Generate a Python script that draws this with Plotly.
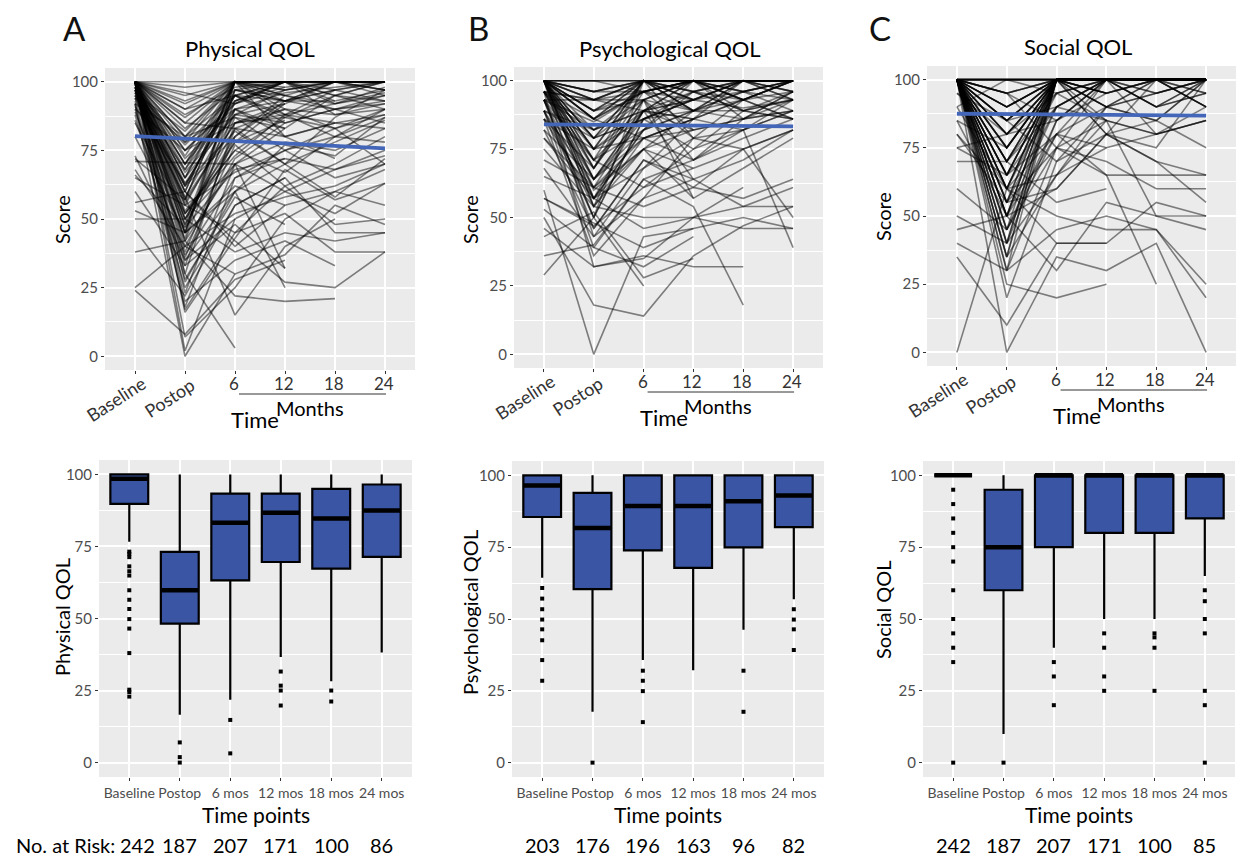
import plotly.graph_objects as go

N = None
W, H = 1244, 859
FONT = "Lato"

top_labels = ["Baseline", "Postop", "6", "12", "18", "24"]
box_labels = ["Baseline", "Postop", "6 mos", "12 mos", "18 mos", "24 mos"]
panel_titles = ["Physical QOL", "Psychological QOL", "Social QOL"]
box_ytitles = ["Physical QOL", "Psychological QOL", "Social QOL"]
panel_letters = ["A", "B", "C"]

# ---------------- individual trajectories (read/estimated from picture) ----------------
phys_base = [100,100,100,98,100,97,100,95,100,92, 100,99,100,90,100,96,100,88,100,94,
             100,100,85,100,97,100,91,100,98,100, 80,100,73,100,93,100,72,100,96,68,
             100,66,100,60,100,56,53,100,50,46, 38,24,25,100,92,100,100,97,100,89,
             100,94,100,86,100,99,71,100,95,100, 65,100,100,98,100,90,100,97,100,
             100,100,96,100,99,100,94,100,98,100, 97,100,100,95,100,92,100,100,98,100]
phys_post = [100,60,45,70,55,30,73,48,62,18, 80,40,58,35,85,50,65,25,75,42,
             17,68,52,88,60,47,63,78,55,38, 45,92,35,63,28,70,57,20,82,40,
             53,47,7,33,95,60,45,N,50,22, 42,8,40,2,0,30,65,77,52,43,
             85,58,72,37,48,67,N,90,62,27, N,80,56,45,16,75,98,50,36,
             83,70,57,90,65,45,78,60,33,87, 52,75,23,68,57,80,42,93,62,50]
phys_m6 = [100,100,93,100,88,85,100,78,95,65, 100,72,90,60,100,83,97,55,92,70,
           45,100,75,98,40,87,82,100,67,80, 62,100,50,90,58,95,85,35,100,30,
           75,68,25,48,100,42,60,92,38,55, 22,28,52,50,30,3,100,95,73,100,
           83,15,90,65,97,88,70,100,80,60, 45,95,85,100,43,93,100,70,77,
           97,92,100,95,88,97,90,100,83,100, 78,85,70,93,100,87,90,100,95,80]
phys_m12 = [100,100,100,93,92,90,100,86,88,72, 97,85,N,70,100,80,93,65,100,78,
            62,95,87,100,55,83,70,100,75,93, 55,98,60,80,48,100,88,42,90,37,
            67,72,50,32,100,27,25,97,45,65, 20,35,58,N,N,N,100,93,88,80,
            70,40,96,75,100,85,60,100,N,77, 52,87,92,100,68,98,100,32,62,
            95,100,88,100,97,93,83,100,90,97, 92,87,83,100,95,75,93,100,85,95]
phys_m18 = [100,95,N,100,N,83,100,N,92,68, N,90,N,58,100,85,97,N,88,75,
            70,100,N,95,60,N,78,N,65,97, N,100,52,85,N,92,80,33,N,55,
            80,N,60,N,100,25,N,100,42,45, 21,N,62,N,N,N,100,93,85,72,
            87,50,98,83,N,90,68,100,N,73, 38,95,100,100,57,N,100,N,48,
            92,100,97,N,100,90,N,93,88,100, N,83,95,97,N,80,100,100,N,90]
phys_m24 = [100,100,N,97,N,88,100,N,95,75, N,92,N,72,97,N,100,N,90,83,
            80,100,N,93,68,N,86,N,70,100, N,100,63,88,N,96,78,N,N,48,
            90,N,55,N,100,38,N,100,45,45, N,N,70,N,N,N,100,N,83,N,
            97,N,100,70,N,95,73,100,N,87, 38,90,100,95,63,N,100,N,50,
            98,N,93,N,100,85,N,97,92,100, N,90,100,N,N,87,97,100,N,93]

psy_base = [100,100,96,100,93,100,89,100,96,86, 100,93,100,82,100,96,89,100,79,100,
            93,100,75,100,86,68,100,96,65,100, 60,57,100,53,50,93,46,100,43,36,
            29,100,89,100,96,82,100,93,100,86, 100,71,100,96,89,100,79,100,93,100,
            86,100,96,100,57,
            100,96,100,93,100,100,96,89,100,100, 93,100,96,100,89,100,100,93,100,96]
psy_post = [100,93,82,60,85,68,54,96,75,57, 89,46,79,64,100,71,39,86,61,93,
            50,82,54,96,68,43,75,32,57,89, 0,47,64,39,18,71,32,86,52,40,
            50,57,79,71,93,46,100,64,54,75, 86,61,96,61,82,68,57,79,50,89,
            36,75,93,43,N,
            89,64,79,57,93,71,86,61,96,54, 82,75,68,100,50,86,64,93,57,79]
psy_m6 = [100,100,89,75,96,100,79,100,86,68, 93,71,100,89,96,82,64,100,75,89,
          86,96,50,100,93,57,79,36,46,100, 43,61,89,32,14,100,35,96,28,64,
          25,82,86,61,100,71,100,82,93,100, 79,54,100,89,93,96,75,86,100,100,
          57,89,96,68,39,
          96,86,100,82,93,89,100,79,96,75, 89,100,93,100,86,96,79,100,89,93]
psy_m12 = [100,100,93,68,100,89,86,100,75,79, 100,61,96,82,100,89,71,100,57,96,
           93,82,50,100,89,64,86,32,50,93, 46,68,100,43,36,79,50,100,35,54,
           N,89,96,75,100,64,93,100,57,89, 86,61,100,93,71,100,82,89,93,100,
           79,64,89,86,46,
           100,93,89,96,100,86,100,82,93,89, 100,96,79,100,93,100,71,96,86,100]
psy_m18 = [100,100,90,N,93,100,N,96,89,82, N,75,100,N,100,86,79,N,68,93,
           N,86,61,100,96,N,82,32,54,100, N,75,89,N,47,93,46,100,N,18,
           N,93,100,82,N,71,100,86,N,96, 100,57,100,N,86,93,N,89,100,96,
           75,54,N,93,50,
           93,100,N,89,100,N,96,86,N,100, 93,89,N,100,96,N,82,100,93,100]
psy_m24 = [100,100,93,N,96,100,N,100,86,89, N,82,93,N,100,93,86,N,79,100,
           N,96,N,100,89,N,93,N,54,100, N,50,96,N,54,100,46,93,N,N,
           N,86,100,39,N,82,100,96,N,93, 100,64,100,N,89,100,N,86,96,100,
           82,61,N,100,46,
           100,N,N,93,96,N,100,89,N,100, 86,93,N,100,100,N,89,96,N,100]

soc_base = [100,100,100,100,100,100,100,100,100,100, 100,100,100,100,100,100,100,100,100,100,
            100,100,100,100,100,100,100,100,95,90, 85,80,75,70,60,50,45,40,35,0,
            100,100,100,100,100,100,100,100,100,100, 100,100,100,100,100,100,100,100,75,90,
            100,85,80,100,
            100,100,100,100,100,100,100,100,100,100, 100,100,100,100,100,100,95,100,100,100]
soc_post = [100,95,90,85,80,75,70,65,60,55, 50,45,35,30,100,95,90,85,75,65,
            60,55,40,70,80,50,20,100,85,60, 75,55,65,70,45,40,50,30,10,60,
            0,25,95,90,85,80,75,70,65,60, 50,40,30,100,95,45,85,35,80,100,
            55,50,N,65,
            100,90,80,70,60,50,40,95,85,75, 65,55,45,35,100,90,80,70,60,50]
soc_m6 = [100,100,100,100,100,100,95,100,100,90, 100,80,100,75,100,85,100,70,100,100,
          65,100,85,100,95,60,70,100,100,80, 100,75,90,55,75,65,30,45,40,50,
          35,20,100,100,100,85,100,100,80,100, 90,100,100,100,75,100,100,65,100,95,
          60,100,40,100,
          100,100,100,100,95,100,100,100,90,100, 100,100,85,100,100,100,100,90,100,80]
soc_m12 = [100,100,95,100,90,100,100,85,100,100, 80,90,100,85,100,100,100,80,100,95,
           75,100,100,90,85,80,90,100,100,75, 100,65,100,60,70,85,55,50,40,45,
           30,25,100,100,95,100,80,100,65,100, 100,90,100,95,100,100,100,90,100,100,
           80,100,40,100,
           100,100,100,95,100,100,100,100,100,90, 100,100,95,100,100,100,100,85,100,100]
soc_m18 = [100,100,100,N,100,100,90,N,100,100, 85,N,100,80,100,N,95,75,100,N,
           80,100,90,100,N,70,85,100,100,N, 95,65,100,N,60,50,50,45,N,45,
           40,N,100,100,100,N,100,100,25,N, 100,95,100,N,80,100,100,85,100,N,
           70,100,55,90,
           100,100,N,100,100,90,N,100,100,95, N,100,100,100,N,100,100,80,N,100]
soc_m24 = [100,100,100,N,90,100,100,N,95,100, 100,N,100,85,100,N,100,100,90,N,
           85,100,95,100,N,65,100,100,100,N, 100,65,90,N,60,45,50,25,N,20,
           0,N,100,100,100,N,100,100,N,N, 100,100,100,N,85,100,100,75,95,N,
           55,100,50,100,
           100,100,N,100,100,95,N,100,100,100, N,100,100,90,N,100,100,90,N,100]

# linear trend (blue) value at Baseline and at 24 months
phys_trend = [80.2, 75.7]
psy_trend = [84.0, 83.3]
soc_trend = [87.5, 86.8]

# ---------------- box-plot summaries ----------------
phys_lf = [76.6, 16.6, 21.8, 36.6, 28.2, 38.2]
phys_q1 = [89.8, 48.2, 63.2, 69.6, 67.3, 71.4]
phys_med = [98.5, 59.8, 83.2, 86.7, 84.7, 87.5]
phys_q3 = [100, 73.1, 93.3, 93.3, 95.0, 96.5]
phys_uf = [100, 100, 100, 100, 100, 100]
phys_out = [[73.2, 72.4, 71.3, 68.1, 66.4, 64.9, 59.8, 56.5, 53.3, 49.8, 46.5, 38.0, 25.3, 24.5, 22.9],
            [7.0, 1.9, 0.0], [14.8, 3.2], [31.6, 26.7, 25.0, 19.8], [25.0, 21.2], []]

psy_lf = [64.4, 17.7, 35.7, 32.2, 46.3, 56.9]
psy_q1 = [85.5, 60.4, 73.9, 67.8, 74.9, 82.0]
psy_med = [96.5, 81.7, 89.3, 89.3, 91.0, 93.0]
psy_q3 = [100, 93.9, 100, 100, 100, 100]
psy_uf = [100, 100, 100, 100, 100, 100]
psy_out = [[60.8, 57.1, 53.4, 49.8, 46.4, 42.6, 35.7, 28.5], [0.0], [32.0, 28.5, 24.9, 14.1],
           [], [32.0, 17.7], [53.4, 49.8, 46.4, 39.2]]

soc_lf = [100, 10, 40, 50, 50, 65]
soc_q1 = [100, 60, 75, 80, 80, 85]
soc_med = [100, 75, 100, 100, 100, 100]
soc_q3 = [100, 95, 100, 100, 100, 100]
soc_uf = [100, 100, 100, 100, 100, 100]
soc_out = [[95, 90, 85, 80, 75, 70, 60, 50, 45, 40, 35, 0], [0], [35, 30, 20],
           [45, 40, 30, 25], [45, 43.6, 40, 25], [60, 56.2, 50, 45, 25, 20, 0]]

phys_risk = [242, 187, 207, 171, 100, 86]
psy_risk = [203, 176, 196, 163, 96, 82]
soc_risk = [242, 187, 207, 171, 100, 85]

# ---------------- layout geometry (pixels) ----------------
top_dom_px = [((105, 415), (68, 370)), ((514, 823), (67, 368)), ((927, 1236), (66, 366))]
bot_dom_px = [((99, 412), (460, 777)), ((512, 824), (461, 777)), ((923, 1235), (461, 777))]

def xd(px):
    return px / W

def yd(py):
    return 1 - py / H

top_series = [
    (phys_base, phys_post, phys_m6, phys_m12, phys_m18, phys_m24, phys_trend),
    (psy_base, psy_post, psy_m6, psy_m12, psy_m18, psy_m24, psy_trend),
    (soc_base, soc_post, soc_m6, soc_m12, soc_m18, soc_m24, soc_trend),
]
box_series = [
    (phys_lf, phys_q1, phys_med, phys_q3, phys_uf, phys_out, phys_risk),
    (psy_lf, psy_q1, psy_med, psy_q3, psy_uf, psy_out, psy_risk),
    (soc_lf, soc_q1, soc_med, soc_q3, soc_uf, soc_out, soc_risk),
]

fig = go.Figure()
pos = list(range(len(top_labels)))

for k, series in enumerate(top_series):
    s = "" if k == 0 else str(k + 1)
    cols = series[:6]
    trend = series[6]
    for i in range(len(cols[0])):
        yv = [c[i] for c in cols]
        fig.add_trace(go.Scatter(x=pos, y=yv, mode="lines", connectgaps=True,
                                 line=dict(color="rgba(0,0,0,0.48)", width=1.6),
                                 hoverinfo="skip", showlegend=False,
                                 xaxis="x" + s, yaxis="y" + s))
    fig.add_trace(go.Scatter(x=[pos[0], pos[-1]], y=trend, mode="lines",
                             line=dict(color="#4466B8", width=3.8),
                             hoverinfo="skip", showlegend=False,
                             xaxis="x" + s, yaxis="y" + s))

BOXW = 0.75
for k, (lf, q1, med, q3, uf, outs, risk) in enumerate(box_series):
    s = str(k + 4)
    fig.add_trace(go.Box(x=pos, lowerfence=lf, q1=q1, median=med, q3=q3, upperfence=uf,
                         width=BOXW, whiskerwidth=0, boxpoints=False,
                         fillcolor="#3A55A4", line=dict(color="black", width=2.2),
                         hoverinfo="skip", showlegend=False,
                         xaxis="x" + s, yaxis="y" + s))
    mx, my = [], []
    for j, m in enumerate(med):
        mx += [pos[j] - BOXW / 2, pos[j] + BOXW / 2, None]
        my += [m, m, None]
    fig.add_trace(go.Scatter(x=mx, y=my, mode="lines", line=dict(color="black", width=4.5),
                             hoverinfo="skip", showlegend=False, xaxis="x" + s, yaxis="y" + s))
    ox, oy = [], []
    for j, vals in enumerate(outs):
        ox += [pos[j]] * len(vals)
        oy += vals
    fig.add_trace(go.Scatter(x=ox, y=oy, mode="markers",
                             marker=dict(symbol="square", size=4, color="black"),
                             hoverinfo="skip", showlegend=False, xaxis="x" + s, yaxis="y" + s))

axis_common_x = dict(range=[-0.6, 5.6], tickvals=pos, showgrid=True, gridcolor="white",
                     gridwidth=1.6, zeroline=False, showline=False, ticks="outside",
                     ticklen=3, tickwidth=1, tickcolor="#333333", fixedrange=True)
axis_common_y = dict(range=[-5, 105], tickvals=[0, 25, 50, 75, 100], showgrid=True,
                     gridcolor="white", gridwidth=1.6, zeroline=False, showline=False,
                     ticks="outside", ticklen=3, tickwidth=1, tickcolor="#333333",
                     minor=dict(tickvals=[12.5, 37.5, 62.5, 87.5], showgrid=True,
                                gridcolor="white", gridwidth=0.7, ticks=""),
                     fixedrange=True)

layout_axes = {}
for k in range(3):
    s = "" if k == 0 else str(k + 1)
    (x0, x1), (y0, y1) = top_dom_px[k]
    layout_axes["xaxis" + s] = dict(axis_common_x, domain=[xd(x0), xd(x1)], anchor="y" + s,
                                    showticklabels=False)
    layout_axes["yaxis" + s] = dict(axis_common_y, domain=[yd(y1), yd(y0)], anchor="x" + s,
                                    tickfont=dict(size=15, color="#4D4D4D", family=FONT))
    s2 = str(k + 4)
    (x0, x1), (y0, y1) = bot_dom_px[k]
    layout_axes["xaxis" + s2] = dict(axis_common_x, domain=[xd(x0), xd(x1)], anchor="y" + s2,
                                     ticktext=box_labels, showticklabels=True, tickangle=0,
                                     tickfont=dict(size=14, color="#4D4D4D", family=FONT))
    layout_axes["yaxis" + s2] = dict(axis_common_y, domain=[yd(y1), yd(y0)], anchor="x" + s2,
                                     tickfont=dict(size=15, color="#4D4D4D", family=FONT))

annotations = []
shapes = []

def ann(text, x, y, size, xref="paper", yref="paper", angle=0, xanchor="center",
        yanchor="middle", color="black", xshift=0, yshift=0):
    annotations.append(dict(text=text, x=x, y=y, xref=xref, yref=yref, showarrow=False,
                            textangle=angle, xanchor=xanchor, yanchor=yanchor,
                            xshift=xshift, yshift=yshift,
                            font=dict(size=size, color=color, family=FONT)))

letter_px = [(74, 28), (478, 28), (880, 28)]
title_px = [(250, 49), (670, 49), (1078, 47)]
score_px = [(62, 220), (470, 220), (883, 217)]
ylab_px = [(62, 617), (470, 613), (883, 610)]

for k in range(3):
    s = "" if k == 0 else str(k + 1)
    ann(panel_letters[k], xd(letter_px[k][0]), yd(letter_px[k][1]), 33, color="#111111")
    ann(panel_titles[k], xd(title_px[k][0]), yd(title_px[k][1]), 22)
    ann("Score", xd(score_px[k][0]), yd(score_px[k][1]), 20, angle=-90)
    yb = top_dom_px[k][1][1]
    ann(top_labels[0], pos[0], yd(yb + 29), 18, xref="x" + s, angle=-33, color="#333333", xshift=-19)
    ann(top_labels[1], pos[1], yd(yb + 28), 18, xref="x" + s, angle=-33, color="#333333", xshift=-16)
    for j in range(2, 6):
        ann(top_labels[j], pos[j], yd(yb + 14), 17, xref="x" + s, color="#333333", xshift=-1)
    shapes.append(dict(type="line", xref="x" + s, yref="paper", x0=pos[2] + 0.08, x1=pos[5] + 0.02,
                       y0=yd(yb + 24), y1=yd(yb + 24), line=dict(color="#333333", width=1)))
    ann("Months", 3.5, yd(yb + 38), 20, xref="x" + s)
    ann("Time", 2.4, yd(yb + 49), 22, xref="x" + s)

    s2 = str(k + 4)
    ann(box_ytitles[k], xd(ylab_px[k][0]), yd(ylab_px[k][1]), 20, angle=-90)
    ann("Time points", 2.5, yd(814), 21, xref="x" + s2)
    risk = box_series[k][6]
    for j, r in enumerate(risk):
        ann(str(r), pos[j], yd(845), 20, xref="x" + s2, xshift=(8 if (k == 0 and j == 0) else 0))

ann("No. at Risk:", xd(117), yd(845), 20, xanchor="right")

fig.update_layout(width=W, height=H, margin=dict(l=0, r=0, t=0, b=0),
                  paper_bgcolor="white", plot_bgcolor="#EBEBEB",
                  font=dict(family=FONT, color="black"),
                  annotations=annotations, shapes=shapes, showlegend=False,
                  **layout_axes)

fig.write_html("out.html", config={"displayModeBar": False},
               post_script="document.body.style.margin='0';document.body.style.padding='0';"
                           "document.body.style.overflow='hidden';")
